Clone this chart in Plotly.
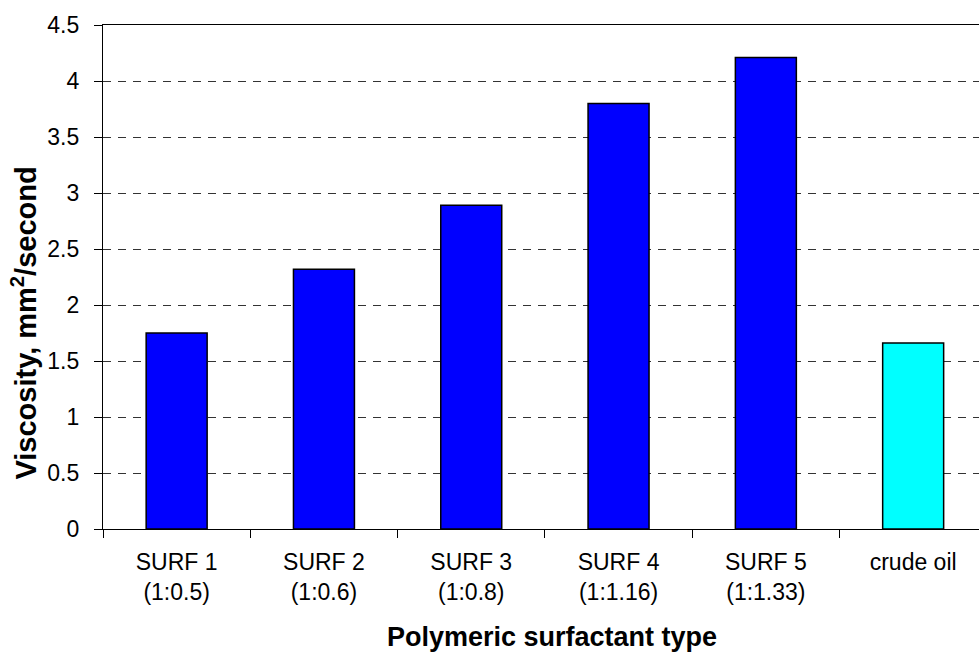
import plotly.graph_objects as go

# Kinematic viscosity of surfactant formulations vs. crude oil
categories = ["SURF 1<br>(1:0.5)", "SURF 2<br>(1:0.6)", "SURF 3<br>(1:0.8)",
              "SURF 4<br>(1:1.16)", "SURF 5<br>(1:1.33)", "crude oil"]
viscosity = [1.75, 2.32, 2.89, 3.80, 4.21, 1.66]
bar_colors = ["#0000FF", "#0000FF", "#0000FF", "#0000FF", "#0000FF", "#00FFFF"]
y_ticks = [0, 0.5, 1, 1.5, 2, 2.5, 3, 3.5, 4, 4.5]
y_tick_text = ["0", "0.5", "1", "1.5", "2", "2.5", "3", "3.5", "4", "4.5"]

font_family = "Liberation Sans, Arial, sans-serif"

fig = go.Figure(go.Bar(
    x=categories,
    y=viscosity,
    marker=dict(color=bar_colors, line=dict(color="#000000", width=1.5)),
))

fig.update_layout(
    width=979, height=653,
    margin=dict(l=103, r=0, t=25, b=124),
    paper_bgcolor="white", plot_bgcolor="white",
    bargap=0.586,
    showlegend=False,
    font=dict(family=font_family, size=23, color="#000000"),
)

fig.update_xaxes(
    type="category",
    range=[-0.5, 5.447],
    tickson="boundaries",
    ticks="outside", ticklen=8, tickcolor="#000000", tickwidth=1,
    showline=True, linecolor="#000000", linewidth=1.2, mirror=True,
    showgrid=False,
    tickfont=dict(size=23),
    ticklabelstandoff=12,
)

fig.update_yaxes(
    range=[0, 4.5],
    tickvals=y_ticks, ticktext=y_tick_text,
    ticks="outside", ticklen=8, tickcolor="#000000", tickwidth=1,
    showline=True, linecolor="#000000", linewidth=1.2,
    showgrid=True, gridcolor="#333333", gridwidth=1, griddash="8px,7px",
    zeroline=False,
    tickfont=dict(size=23),
    ticklabelstandoff=10,
)

# Axis titles
fig.add_annotation(
    text="<b>Polymeric surfactant type</b>",
    xref="paper", yref="paper", x=0.5126, y=-0.214,
    xanchor="center", yanchor="middle", showarrow=False,
    font=dict(size=27),
)
fig.add_annotation(
    text="<b>Viscosity, mm<sup>2</sup>/second</b>",
    xref="paper", yref="paper", x=-0.090, y=0.408,
    xanchor="center", yanchor="middle", showarrow=False,
    textangle=-90,
    font=dict(size=29),
)

fig.write_html("out.html")
